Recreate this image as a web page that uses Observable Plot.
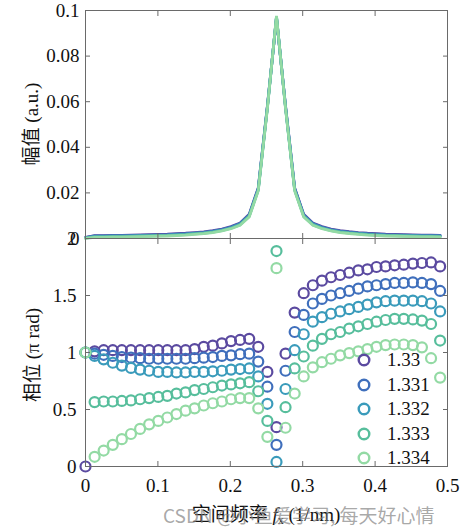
<!DOCTYPE html>
<html><head><meta charset="utf-8">
<script src="https://cdn.jsdelivr.net/npm/d3@7"></script>
<script src="https://cdn.jsdelivr.net/npm/@observablehq/plot@0.6"></script>
<style>
html,body{margin:0;padding:0;background:#fff;}
#wrap{position:relative;width:470px;height:530px;overflow:hidden;font-family:'Liberation Serif','Noto Sans CJK SC',serif;color:#111;}
#top,#bot{position:absolute;left:0;}
#top{top:0;}
#bot{top:228px;}
.ylab{position:absolute;white-space:nowrap;font-size:19px;transform:translate(-50%,-50%) rotate(-90deg);}
#xlab{position:absolute;white-space:nowrap;font-size:19px;transform:translate(-50%,-50%);}
#xlab sub{font-size:12px;vertical-align:-3px;}
#wm{position:absolute;white-space:nowrap;font-family:'Noto Sans CJK SC','Noto Sans',sans-serif;font-size:19px;color:rgba(130,130,130,0.7);transform:translateY(-50%);}
#legend{position:absolute;left:357px;top:348px;font-size:19px;}
.lrow{display:flex;align-items:center;height:24.5px;}
.lrow svg{width:14px;height:14px;margin-right:16px;flex:none;}
</style></head><body>
<div id="wrap">
  <div id="top"></div>
  <div id="bot"></div>
  <div class="ylab" style="left:29px;top:124px">幅值 (a.u.)</div>
  <div class="ylab" style="left:30px;top:355px">相位 (π rad)</div>
  <div id="xlab" style="left:266px;top:513px">空间频率 <i>f</i><sub>x</sub> (1/nm)</div>
  <div id="wm" style="left:163px;top:514px">CSDN @小鱼爱学习, 每天好心情</div>
  <div id="legend"></div>
</div>
<script>
const names = ["1.33", "1.331", "1.332", "1.333", "1.334"];
const colors = ["#5b4aa0", "#3f6fbc", "#3a9bbb", "#57be9c", "#93daa4"];

const freq = [0, 0.0126, 0.0251, 0.0377, 0.0502, 0.0628, 0.0754, 0.0879, 0.1005, 0.1130,
  0.1256, 0.1382, 0.1507, 0.1633, 0.1758, 0.1884, 0.2010, 0.2135, 0.2261, 0.2386,
  0.2512, 0.2638, 0.2763, 0.2889, 0.3014, 0.3140, 0.3266, 0.3391, 0.3517, 0.3642,
  0.3768, 0.3894, 0.4019, 0.4145, 0.4270, 0.4396, 0.4522, 0.4647, 0.4773, 0.4898];

const amp1330 = [0.0005,0.0013,0.0013,0.0014,0.0014,0.0015,0.0016,0.0017,0.0018,0.0019,0.0021,0.0023,0.0026,0.0029,0.0034,0.0041,0.0052,0.0068,0.0106,0.0222,0.0580,0.0968,0.0580,0.0222,0.0106,0.0068,0.0052,0.0041,0.0034,0.0030,0.0026,0.0023,0.0021,0.0019,0.0018,0.0017,0.0016,0.0015,0.0015,0.0014];
const amp1331 = [0.0004,0.0011,0.0011,0.0012,0.0012,0.0013,0.0014,0.0015,0.0016,0.0017,0.0019,0.0021,0.0024,0.0027,0.0032,0.0039,0.0050,0.0066,0.0103,0.0219,0.0578,0.0970,0.0578,0.0219,0.0103,0.0066,0.0050,0.0039,0.0032,0.0028,0.0024,0.0021,0.0019,0.0017,0.0016,0.0015,0.0014,0.0013,0.0013,0.0012];
const amp1332 = [0.0003,0.0009,0.0009,0.0010,0.0010,0.0011,0.0012,0.0013,0.0014,0.0015,0.0017,0.0019,0.0022,0.0025,0.0030,0.0037,0.0047,0.0063,0.0100,0.0215,0.0575,0.0972,0.0575,0.0215,0.0100,0.0063,0.0047,0.0037,0.0030,0.0026,0.0022,0.0019,0.0017,0.0015,0.0014,0.0013,0.0012,0.0011,0.0011,0.0010];
const amp1333 = [0.0002,0.0007,0.0007,0.0008,0.0008,0.0009,0.0010,0.0011,0.0012,0.0013,0.0015,0.0017,0.0020,0.0023,0.0028,0.0035,0.0045,0.0060,0.0097,0.0212,0.0572,0.0974,0.0572,0.0212,0.0097,0.0060,0.0045,0.0035,0.0028,0.0024,0.0020,0.0017,0.0015,0.0013,0.0012,0.0011,0.0010,0.0009,0.0009,0.0008];
const amp1334 = [0.0001,0.0005,0.0005,0.0006,0.0006,0.0007,0.0008,0.0009,0.0010,0.0011,0.0013,0.0015,0.0018,0.0021,0.0026,0.0033,0.0043,0.0058,0.0094,0.0209,0.0570,0.0976,0.0570,0.0209,0.0094,0.0058,0.0043,0.0033,0.0026,0.0022,0.0018,0.0015,0.0013,0.0011,0.0010,0.0009,0.0008,0.0007,0.0007,0.0006];

const ph1330 = [0,1.01,1.02,1.02,1.02,1.02,1.02,1.02,1.02,1.02,1.02,1.02,1.03,1.05,1.06,1.08,1.10,1.11,1.12,1.05,0.83,0.345,0.99,1.35,1.52,1.59,1.63,1.66,1.68,1.70,1.72,1.73,1.75,1.755,1.765,1.77,1.78,1.785,1.79,1.755];
const ph1331 = [1.0,0.99,0.98,0.97,0.96,0.955,0.95,0.945,0.945,0.945,0.945,0.945,0.95,0.955,0.96,0.97,0.975,0.985,0.99,0.92,0.70,0.19,0.84,1.18,1.33,1.43,1.47,1.50,1.52,1.54,1.56,1.58,1.59,1.60,1.61,1.61,1.615,1.61,1.60,1.54];
const ph1332 = [1.0,0.97,0.94,0.91,0.885,0.865,0.85,0.84,0.83,0.83,0.825,0.825,0.83,0.83,0.835,0.84,0.85,0.855,0.86,0.79,0.55,0.04,0.68,1.02,1.16,1.27,1.31,1.34,1.36,1.38,1.40,1.42,1.44,1.45,1.455,1.455,1.455,1.45,1.43,1.36];
const ph1333 = [1.0,0.565,0.57,0.57,0.575,0.58,0.59,0.60,0.61,0.62,0.64,0.65,0.67,0.68,0.695,0.71,0.72,0.73,0.74,0.66,0.40,1.89,0.52,0.86,0.965,1.06,1.12,1.16,1.18,1.21,1.23,1.25,1.27,1.285,1.295,1.295,1.29,1.28,1.25,1.105];
const ph1334 = [1.0,0.085,0.14,0.19,0.24,0.285,0.33,0.37,0.40,0.43,0.46,0.49,0.51,0.535,0.555,0.57,0.59,0.60,0.60,0.51,0.26,1.74,0.34,0.64,0.79,0.87,0.915,0.945,0.975,0.995,1.01,1.03,1.05,1.065,1.07,1.07,1.065,1.045,0.95,0.78];

const ampTicks = [0, 0.02, 0.04, 0.06, 0.08, 0.1];
const phaseTicks = [0, 0.5, 1, 1.5, 2];
const freqTicks = [0, 0.1, 0.2, 0.3, 0.4, 0.5];

const ampSeries = [amp1330, amp1331, amp1332, amp1333, amp1334];
const phSeries = [ph1330, ph1331, ph1332, ph1333, ph1334];
const ampRows = [], phRows = [];
names.forEach((n, i) => {
  freq.forEach((f, k) => {
    ampRows.push({n, f, v: ampSeries[i][k]});
    phRows.push({n, f, v: phSeries[i][k]});
  });
});

const ff = "'Liberation Serif','Noto Sans CJK SC',serif";
const frameColor = "#6a6a6a";
const fmt = d3.format("~g");
const style = {background: "transparent", fontFamily: ff, fontSize: "19px", color: "#111", overflow: "visible"};

function tickMarks(yTicks) {
  return [
    Plot.axisY({ticks: yTicks, anchor: "left", tickSize: 5, dx: 5, fill: "none", stroke: frameColor, label: null}),
    Plot.axisY({ticks: yTicks, anchor: "right", tickSize: 5, dx: -5, fill: "none", stroke: frameColor, label: null}),
    Plot.axisX({ticks: freqTicks, anchor: "bottom", tickSize: 5, dy: -5, fill: "none", stroke: frameColor, label: null}),
    Plot.axisX({ticks: freqTicks, anchor: "top", tickSize: 5, dy: 5, fill: "none", stroke: frameColor, label: null})
  ];
}

const topPlot = Plot.plot({
  width: 470, height: 250,
  marginLeft: 85, marginRight: 23, marginTop: 10, marginBottom: 12,
  style,
  x: {domain: [0, 0.5]},
  y: {domain: [0, 0.1]},
  color: {domain: names, range: colors},
  marks: [
    Plot.line(ampRows, {x: "f", y: "v", z: "n", stroke: "n", strokeWidth: 2.8, strokeLinejoin: "miter"}),
    Plot.frame({stroke: frameColor}),
    Plot.axisY({ticks: ampTicks, tickSize: 0, tickPadding: 6, tickFormat: fmt, label: null}),
    ...tickMarks(ampTicks)
  ]
});
document.getElementById("top").append(topPlot);

const botPlot = Plot.plot({
  width: 470, height: 302,
  marginLeft: 85, marginRight: 23, marginTop: 10, marginBottom: 64,
  style,
  x: {domain: [0, 0.5]},
  y: {domain: [0, 2]},
  color: {domain: names, range: colors},
  marks: [
    Plot.dot(phRows, {x: "f", y: "v", stroke: "n", r: 5, strokeWidth: 2.2, fill: "none"}),
    Plot.frame({stroke: frameColor}),
    Plot.axisY({ticks: phaseTicks, tickSize: 0, tickPadding: 9, tickFormat: fmt, label: null}),
    Plot.axisX({ticks: freqTicks, tickSize: 0, tickPadding: 12, tickFormat: fmt, label: null}),
    ...tickMarks(phaseTicks)
  ]
});
document.getElementById("bot").append(botPlot);

const legend = document.getElementById("legend");
names.forEach((n, i) => {
  const row = document.createElement("div");
  row.className = "lrow";
  row.innerHTML = `<svg viewBox="0 0 14 14"><circle cx="7" cy="7" r="5.3" fill="none" stroke="${colors[i]}" stroke-width="2.4"/></svg><span>${n}</span>`;
  legend.append(row);
});
</script>
</body></html>
